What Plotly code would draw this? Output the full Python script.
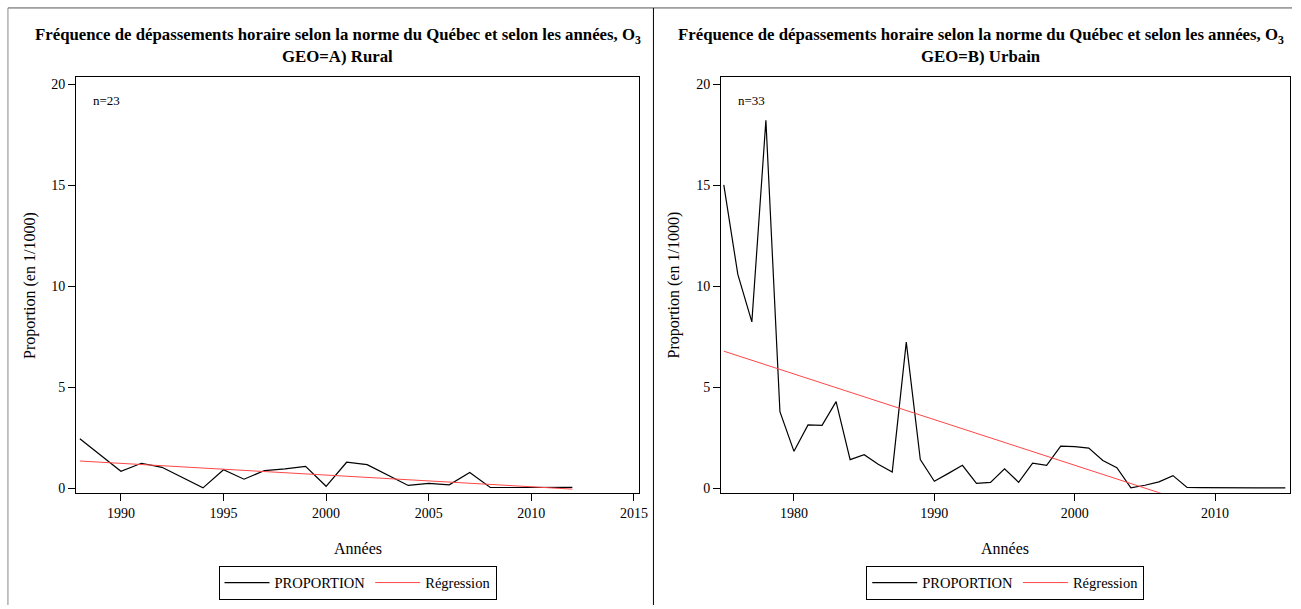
import plotly.graph_objects as go

W, H = 1301, 609

# ---------------- data ----------------
rural_years = [1988, 1990, 1991, 1992, 1994, 1995, 1996, 1997, 1998, 1999, 2000,
               2001, 2002, 2003, 2004, 2005, 2006, 2007, 2008, 2009, 2010, 2011, 2012]
rural_prop = [2.46, 0.85, 1.25, 1.05, 0.03, 0.93, 0.46, 0.89, 0.97, 1.10, 0.11,
              1.30, 1.18, 0.66, 0.15, 0.25, 0.18, 0.79, 0.05, 0.05, 0.05, 0.03, 0.06]
rural_reg_years = [1988, 2012]
rural_reg = [1.36, -0.03]

urban_years = list(range(1975, 2016))
urban_prop = [15.03, 10.60, 8.25, 18.23, 3.80, 1.84, 3.15, 3.13, 4.30, 1.43,
              1.67, 1.20, 0.82, 7.25, 1.43, 0.36, 0.75, 1.15, 0.25, 0.30,
              0.97, 0.31, 1.25, 1.15, 2.10, 2.07, 2.00, 1.39, 1.03, 0.03,
              0.16, 0.33, 0.64, 0.05, 0.04, 0.03, 0.03, 0.03, 0.03, 0.03, 0.03]
urban_reg_years = [1975, 2015]
urban_reg = [6.80, -2.24]

y_ticks = [0, 5, 10, 15, 20]
rural_x_ticks = [1990, 1995, 2000, 2005, 2010, 2015]
urban_x_ticks = [1980, 1990, 2000, 2010]

title_line1 = "Fréquence de dépassements horaire selon la norme du Québec et selon les années, O<sub>3</sub>"
rural_sub = "GEO=A) Rural"
urban_sub = "GEO=B) Urbain"
rural_n = "n=23"
urban_n = "n=33"

SERIF = "Liberation Serif"
BLACK = "#000000"
RED = "rgb(255,70,70)"


def fx(p):
    return p / W


def fy(p):
    return 1 - p / H


fig = go.Figure()

fig.add_trace(go.Scatter(x=rural_years, y=rural_prop, mode="lines", name="PROPORTION",
                         line=dict(color=BLACK, width=1.2), xaxis="x", yaxis="y",
                         legend="legend"))
fig.add_trace(go.Scatter(x=rural_reg_years, y=rural_reg, mode="lines", name="Régression",
                         line=dict(color=RED, width=1), xaxis="x", yaxis="y",
                         legend="legend"))
fig.add_trace(go.Scatter(x=urban_years, y=urban_prop, mode="lines", name="PROPORTION",
                         line=dict(color=BLACK, width=1.2), xaxis="x2", yaxis="y2",
                         legend="legend2"))
fig.add_trace(go.Scatter(x=urban_reg_years, y=urban_reg, mode="lines", name="Régression",
                         line=dict(color=RED, width=1), xaxis="x2", yaxis="y2",
                         legend="legend2"))

L1, R1 = 76.7, 643.3
L2, R2 = 726.0, 1298.5
TOP, BOT = 78.0, 496.0

axis_common = dict(showline=True, linecolor=BLACK, linewidth=1, mirror=True,
                   ticks="outside", ticklen=7, tickwidth=1, tickcolor=BLACK,
                   showgrid=False, zeroline=False,
                   tickfont=dict(family=SERIF, size=14, color=BLACK))

fig.update_layout(
    width=W, height=H, autosize=False,
    margin=dict(l=0, r=0, t=0, b=0),
    paper_bgcolor="white", plot_bgcolor="white",
    showlegend=True,
    xaxis=dict(domain=[fx(L1), fx(R1)], range=[1987.82, 2015.24], tickvals=rural_x_ticks,
               anchor="y", **axis_common),
    yaxis=dict(domain=[fy(BOT), fy(TOP)], range=[-0.21, 20.35], tickvals=y_ticks,
               anchor="x", **axis_common),
    xaxis2=dict(domain=[fx(L2), fx(R2)], range=[1974.8, 2015.3], tickvals=urban_x_ticks,
                anchor="y2", **axis_common),
    yaxis2=dict(domain=[fy(BOT), fy(TOP)], range=[-0.21, 20.35], tickvals=y_ticks,
                anchor="x2", **axis_common),
    legend=dict(orientation="h", x=fx((L1 + R1) / 2), y=fy(586.5), xanchor="center",
                yanchor="middle", bordercolor=BLACK, borderwidth=1, bgcolor="white",
                font=dict(family=SERIF, size=14.5, color=BLACK), itemwidth=45),
    legend2=dict(orientation="h", x=fx((L2 + R2) / 2), y=fy(586.5), xanchor="center",
                 yanchor="middle", bordercolor=BLACK, borderwidth=1, bgcolor="white",
                 font=dict(family=SERIF, size=14.5, color=BLACK), itemwidth=45),
)

ann = []
for cx, sub in [(340, rural_sub), (988, urban_sub)]:
    ann.append(dict(x=fx(cx), y=fy(36), xref="paper", yref="paper",
                    text="<b>" + title_line1 + "</b>",
                    showarrow=False, xanchor="center", yanchor="middle",
                    font=dict(family=SERIF, size=16.8, color=BLACK)))
    ann.append(dict(x=fx(cx), y=fy(57), xref="paper", yref="paper", text="<b>" + sub + "</b>",
                    showarrow=False, xanchor="center", yanchor="middle",
                    font=dict(family=SERIF, size=16.8, color=BLACK)))

for cx in [(L1 + R1) / 2, (L2 + R2) / 2]:
    ann.append(dict(x=fx(cx), y=fy(552), xref="paper", yref="paper", text="Années",
                    showarrow=False, xanchor="center", yanchor="middle",
                    font=dict(family=SERIF, size=16, color=BLACK)))
for cx in [30, 679]:
    ann.append(dict(x=fx(cx), y=fy((TOP + BOT) / 2), xref="paper", yref="paper",
                    text="Proportion (en 1/1000)", textangle=-90,
                    showarrow=False, xanchor="center", yanchor="middle",
                    font=dict(family=SERIF, size=16, color=BLACK)))
for lx, txt in [(L1 + 15, rural_n), (L2 + 15, urban_n)]:
    ann.append(dict(x=fx(lx), y=fy(101), xref="paper", yref="paper", text=txt,
                    showarrow=False, xanchor="left", yanchor="middle",
                    font=dict(family=SERIF, size=13, color=BLACK)))
fig.update_layout(annotations=ann)

# panel frames
shapes = [
    dict(type="line", xref="paper", yref="paper", x0=fx(8), x1=1, y0=fy(8), y1=fy(8),
         line=dict(color="#555555", width=1)),
    dict(type="line", xref="paper", yref="paper", x0=fx(8), x1=fx(8), y0=0, y1=fy(8),
         line=dict(color="#888888", width=1)),
    dict(type="line", xref="paper", yref="paper", x0=fx(658), x1=fx(658), y0=0, y1=fy(8),
         line=dict(color=BLACK, width=1)),
]
fig.update_layout(shapes=shapes)

fig.write_html("out.html")
